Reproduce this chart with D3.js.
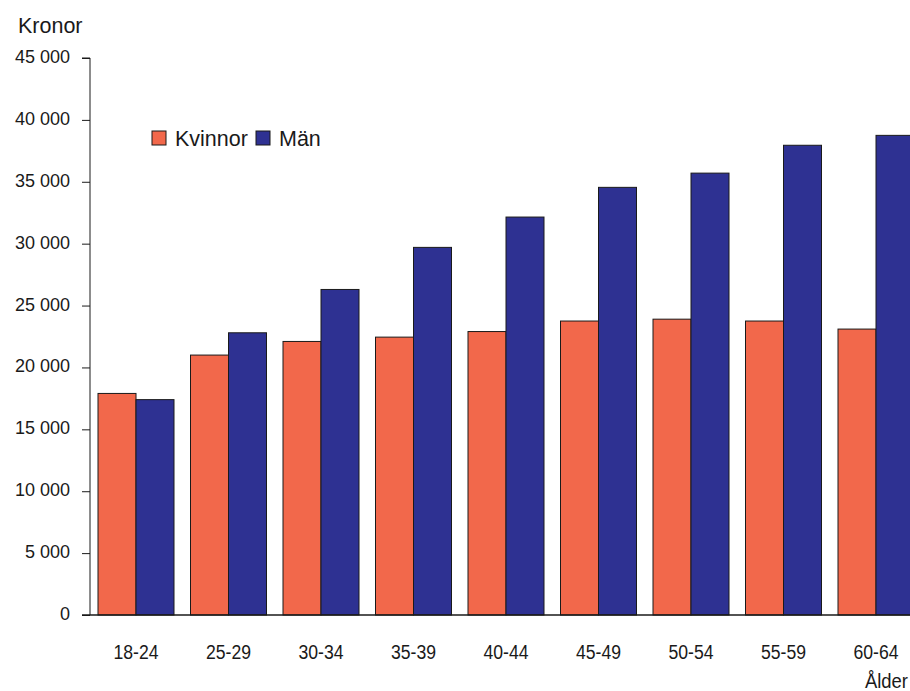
<!DOCTYPE html>
<html><head><meta charset="utf-8">
<script src="https://cdn.jsdelivr.net/npm/d3@7"></script>
<style>
body{margin:0;background:#fff;}
text{font-family:"Liberation Sans",Arial,sans-serif;fill:#1a1a1a;}
</style></head>
<body><svg id="c" width="910" height="691"></svg>
<script>
const categories = ["18-24","25-29","30-34","35-39","40-44","45-49","50-54","55-59","60-64"];
const kvinnor = [17900,21000,22100,22450,22900,23750,23900,23750,23100];
const man = [17400,22800,26300,29700,32150,34550,35700,37950,38750];
const seriesNames = ["Kvinnor","Män"];
const colors = ["#F2684B","#2E3192"];
const yTicks = [0,5000,10000,15000,20000,25000,30000,35000,40000,45000];

const svg = d3.select("#c");
const mLeft = 90, mTop = 58, mBottom = 615;
const pIn = 16.5/92.5;
const xs = d3.scaleBand().domain(categories)
  .range([mLeft - 0.25, mLeft - 0.25 + 9*92.5]).paddingInner(pIn).paddingOuter(pIn/2);
const sub = d3.scaleBand().domain(seriesNames).range([0, xs.bandwidth()]);
const y = d3.scaleLinear().domain([0,45000]).range([mBottom, mTop]);

const data = categories.map((c,i)=>({cat:c, vals:[kvinnor[i], man[i]]}));

const g = svg.append("g");
data.forEach(d=>{
  d.vals.forEach((v,j)=>{
    g.append("rect")
      .attr("x", xs(d.cat) + sub(seriesNames[j]))
      .attr("y", y(v))
      .attr("width", sub.bandwidth())
      .attr("height", y(0)-y(v))
      .attr("fill", colors[j])
      .attr("stroke", "#1a1a1a")
      .attr("stroke-width", 1);
  });
});

// y axis
const yAxis = d3.axisLeft(y).tickValues(yTicks).tickSize(8).tickPadding(12)
  .tickFormat(d => d3.format(",")(d).replace(/,/g," "));
const ya = svg.append("g").attr("transform",`translate(${mLeft},0)`).call(yAxis);
ya.attr("font-family",null).attr("font-size",null);
ya.select(".domain").attr("stroke","#1a1a1a").attr("d",`M-8,${mTop}H0V${mBottom}`);
ya.selectAll(".tick line").attr("stroke","#1a1a1a");
ya.selectAll("text").style("font-size","18px").attr("fill","#1a1a1a").attr("dy","0.25em");

// x axis
const xAxis = d3.axisBottom(xs).tickSize(0).tickPadding(0);
const xa = svg.append("g").attr("transform",`translate(0,${mBottom})`).call(xAxis);
xa.attr("font-family",null).attr("font-size",null);
xa.select(".domain").remove();
xa.selectAll("text").style("font-size","20.5px").attr("fill","#1a1a1a")
  .attr("y",44).attr("dy",null).attr("transform","scale(0.86,1)");
svg.append("line").attr("x1",mLeft-8).attr("x2",910).attr("y1",mBottom).attr("y2",mBottom)
  .attr("stroke","#1a1a1a").attr("stroke-width",1.5);

// titles
svg.append("text").attr("x",18).attr("y",33).style("font-size","21.5px").text("Kronor");
svg.append("text").attr("transform","translate(908,688) scale(0.9,1)")
  .attr("text-anchor","end").style("font-size","20.5px").text("Ålder");

// legend
const leg = svg.append("g");
const legX = [152, 256];
seriesNames.forEach((s,j)=>{
  leg.append("rect").attr("x",legX[j]).attr("y",131).attr("width",14).attr("height",14)
    .attr("fill",colors[j]).attr("stroke","#1a1a1a").attr("stroke-width",1);
  leg.append("text").attr("x",legX[j]+23).attr("y",146).style("font-size","21.5px").text(s);
});
</script></body></html>
